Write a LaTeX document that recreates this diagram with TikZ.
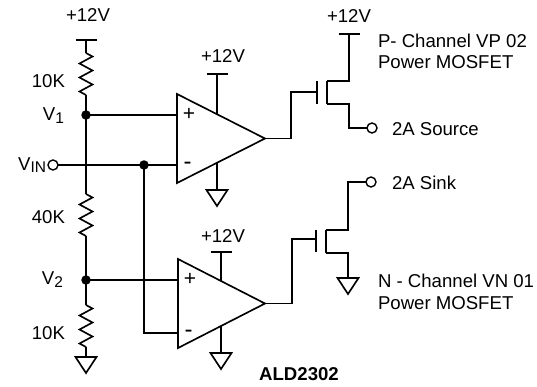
\documentclass[tikz,border=0pt]{standalone}
\usepackage{fontspec}
\setmainfont{Liberation Sans}
\newcommand\lbsub[2]{\raisebox{#1}{\fontsize{15.5}{15.5}\selectfont #2}}
\begin{document}
\begin{tikzpicture}[x=1pt,y=-1pt,line width=1.65pt,line join=miter,
  every node/.style={font=\fontsize{18.6}{21}\selectfont,inner sep=0pt,outer sep=0pt},
  res/.pic={\draw (0,0) -- (6.5,3.5) -- (-6.5,10.5) -- (6.5,17.5) -- (-6.5,24.5) -- (6.5,31.5) -- (-6.5,38.5) -- (0,42);},
  gnd/.pic={\draw (-10.5,0) -- (10.5,0) -- (0,16) -- cycle;},
  supbar/.pic={\draw (-10.5,0) -- (10.5,0);},
  term/.style={circle,draw,fill=white,minimum size=10pt,line width=1.4pt},
  jdot/.style={circle,fill=black,minimum size=9.5pt},
  sign/.style={font=\fontsize{21}{21}\selectfont},
  msign/.style={font=\fontsize{24}{24}\selectfont},
  lbl/.style={anchor=base},
  lbll/.style={anchor=base west},
  lblr/.style={anchor=base east}]
\useasboundingbox (0,0) rectangle (537,386);

% ---- divider chain
\coordinate (t1) at (86,40);
\coordinate (r1a) at (86,53);
\coordinate (r1b) at (86,95);
\node[jdot] (v1) at (86,115) {};
\coordinate (r2a) at (86,194);
\coordinate (r2b) at (86,236);
\node[jdot] (v2) at (86,280) {};
\coordinate (r3a) at (86,305);
\coordinate (r3b) at (86,347);
\coordinate (g1) at (86,357);
\pic at (t1) {supbar};
\pic at (r1a) {res};
\pic at (r2a) {res};
\pic at (r3a) {res};
\pic at (g1) {gnd};
\draw (t1) -- (r1a);
\draw (r1b) -- (v1.center) -- (r2a);
\draw (r2b) -- (v2.center) -- (r3a);
\draw (r3b) -- (g1);

\node[lbl] (lt1) at (88,21) {+12V};
\node[lblr] (l10a) at (65,87) {10K};
\node[lblr] (lv1) at (64,120) {V\lbsub{-3.5pt}{1}};
\node[lblr] (l40) at (65,223) {40K};
\node[lblr] (lv2) at (63,284) {V\lbsub{-3.5pt}{2}};
\node[lblr] (l10b) at (65,339) {10K};

% ---- input
\node[term] (vin) at (53,165) {};
\node[anchor=base east] (lvin) at (46,170) {V\lbsub{-2pt}{IN}};
\node[jdot] (d3) at (144,165) {};

% ---- op amp 1
\coordinate (o1t) at (177,94);
\coordinate (o1b) at (177,183);
\coordinate (o1o) at (265,138.5);
\coordinate (o1p) at (177,115);
\coordinate (o1m) at (177,165);
\draw (o1t) -- (o1o) -- (o1b) -- cycle;
\node[sign] (p1) at (189,114) {+};
\node[msign] (m1) at (187.5,165.5) {-};
\coordinate (o1s) at (217,114.2);
\coordinate (o1sb) at (217,74);
\coordinate (o1g) at (217,162.8);
\coordinate (o1gg) at (217,190);
\pic at (o1sb) {supbar};
\pic at (o1gg) {gnd};
\draw (o1sb) -- (o1s);
\draw (o1g) -- (o1gg);
\node[lbl] (ls1) at (223,62) {+12V};
\draw (v1.center) -- (o1p);
\draw (vin) -- (d3.center) -- (o1m);

% ---- op amp 2
\coordinate (o2t) at (178,259);
\coordinate (o2b) at (178,348);
\coordinate (o2o) at (265,303.5);
\coordinate (o2p) at (178,280);
\coordinate (o2m) at (178,333);
\draw (o2t) -- (o2o) -- (o2b) -- cycle;
\node[sign] (p2) at (190,279) {+};
\node[msign] (m2) at (188.5,333.5) {-};
\coordinate (o2s) at (221,281);
\coordinate (o2sb) at (221,252);
\coordinate (o2g) at (221,326);
\coordinate (o2gg) at (221,353);
\pic at (o2sb) {supbar};
\pic at (o2gg) {gnd};
\draw (o2sb) -- (o2s);
\draw (o2g) -- (o2gg);
\node[lbl] (ls2) at (223,242) {+12V};
\draw (v2.center) -- (o2p);
\draw (d3.center) |- (o2m);

% ---- P-channel MOSFET
\coordinate (pg) at (317,92);
\draw (o1o) -| (291,92) -- (pg);
\draw (317,81) -- (317,104);
\draw (327,81) -- (327,104);
\coordinate (pd) at (349,34);
\pic at (pd) {supbar};
\draw (327,81) -| (pd);
\node[term] (src) at (372,128) {};
\draw (327,104) -| (349,128) -- (src);
\node[lbl] (ls3) at (349,22) {+12V};
\node[lbll] (lp1) at (378,47) {P- Channel VP 02};
\node[lbll] (lp2) at (378,68) {Power MOSFET};
\node[lbll] (lsrc) at (392,135) {2A Source};

% ---- N-channel MOSFET
\node[term] (snk) at (371,182) {};
\coordinate (ng) at (316,239);
\draw (o2o) -| (292,239) -- (ng);
\draw (316,230) -- (316,252);
\draw (326,230) -- (326,253);
\draw (snk) -| (348,230) -- (326,230);
\coordinate (ngnd) at (348,278);
\draw (326,253) -| (ngnd);
\pic at (ngnd) {gnd};
\node[lbll] (lsnk) at (392,189) {2A Sink};
\node[lbll] (ln1) at (378,287) {N - Channel VN 01};
\node[lbll] (ln2) at (378,309) {Power MOSFET};

\node[lbl,font=\fontsize{18.6}{21}\selectfont\bfseries] (ald) at (299,380) {ALD2302};
\end{tikzpicture}
\end{document}
